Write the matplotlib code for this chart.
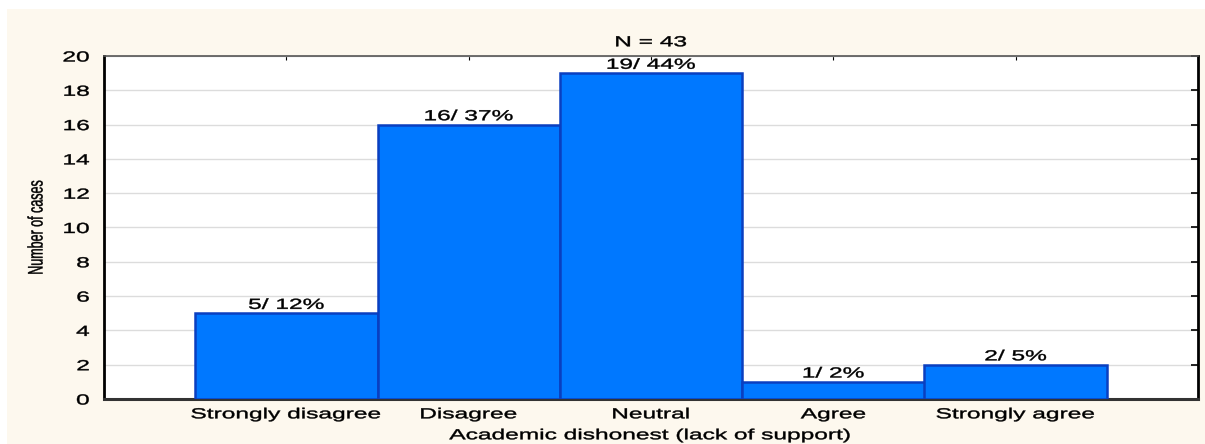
import matplotlib
matplotlib.use("Agg")
import matplotlib.pyplot as plt
from matplotlib.patches import Rectangle
from matplotlib.patheffects import AbstractPathEffect
from matplotlib.transforms import Affine2D

categories = ["Strongly disagree", "Disagree", "Neutral", "Agree", "Strongly agree"]
counts = [5, 16, 19, 1, 2]
percents = [12, 37, 44, 2, 5]
total_n = 43


class Stretch(AbstractPathEffect):
    # widen the drawn text horizontally (in display space), like the source image
    def __init__(self, sx=1.68, anchor="center", weight=0.3):
        super().__init__()
        self.sx = sx
        self.anchor = anchor
        self.weight = weight

    def draw_path(self, renderer, gc, tpath, affine, rgbFace=None):
        ext = tpath.get_extents(affine)
        if self.anchor == "right":
            x0 = ext.x1
        else:
            x0 = (ext.x0 + ext.x1) / 2
        tr = affine + Affine2D().translate(-x0, 0).scale(self.sx, 1).translate(x0, 0)
        gc0 = renderer.new_gc()
        gc0.copy_properties(gc)
        gc0.set_linewidth(self.weight)
        gc0.set_foreground(rgbFace)
        renderer.draw_path(gc0, tpath, tr, rgbFace)
        gc0.restore()


plt.rcParams['font.family'] = ['Liberation Sans', 'DejaVu Sans']
wide = [Stretch(1.68)]

fig = plt.figure(figsize=(12.05, 4.44), dpi=100, facecolor="white")
bg = Rectangle((7 / 1205, 0), 1 - 7 / 1205, 1 - 9 / 444,
               transform=fig.transFigure, facecolor="#fdf8ee",
               edgecolor="none", zorder=-10)
fig.add_artist(bg)
ax = fig.add_axes([104 / 1205, 1 - 399 / 444, (1198 - 104) / 1205, (399 - 56) / 444])
ax.set_zorder(1)
ax.set_facecolor("white")

pos = list(range(1, len(categories) + 1))
ax.bar(pos, counts, width=1.0, color="#0078ff", edgecolor="#0a3fc0",
       linewidth=1.8, zorder=3)
for x, c, p in zip(pos, counts, percents):
    ax.text(x, c + 0.08, f"{c}/ {p}%", ha="center", va="bottom", fontsize=10.5,
            color="black", zorder=4, path_effects=wide)

ax.set_xlim(0, 6)
ax.set_ylim(0, 20)
ax.set_yticks(range(0, 21, 2))
ax.set_xticks(pos)
ax.set_xticklabels(categories, fontsize=10.5)
ax.tick_params(axis="y", labelsize=10.5, direction="in", length=5, pad=10.5,
               left=False, right=True, width=1.2)
ax.tick_params(axis="x", direction="in", length=3, top=True, pad=6)
for lab in ax.get_xticklabels():
    lab.set_path_effects(wide)
for lab in ax.get_yticklabels():
    lab.set_path_effects([Stretch(1.68, anchor="right")])
ax.grid(axis="y", color="#dcdcdc", linewidth=1, zorder=0)

for side in ["left", "right"]:
    ax.spines[side].set_linewidth(2)
    ax.spines[side].set_color("black")
ax.spines["bottom"].set_linewidth(2.2)
ax.spines["bottom"].set_color("#333333")
ax.spines["top"].set_linewidth(1.2)
ax.spines["top"].set_color("#555555")

ax.set_title(f"N = {total_n}", fontsize=10.5, pad=7, path_effects=wide)
ax.set_xlabel("Academic dishonest (lack of support)", fontsize=10.5, labelpad=5,
              path_effects=wide)
ax.set_ylabel("Number of cases", fontsize=9, labelpad=22, path_effects=wide)

fig.savefig("out.png", dpi=100, facecolor=fig.get_facecolor())
